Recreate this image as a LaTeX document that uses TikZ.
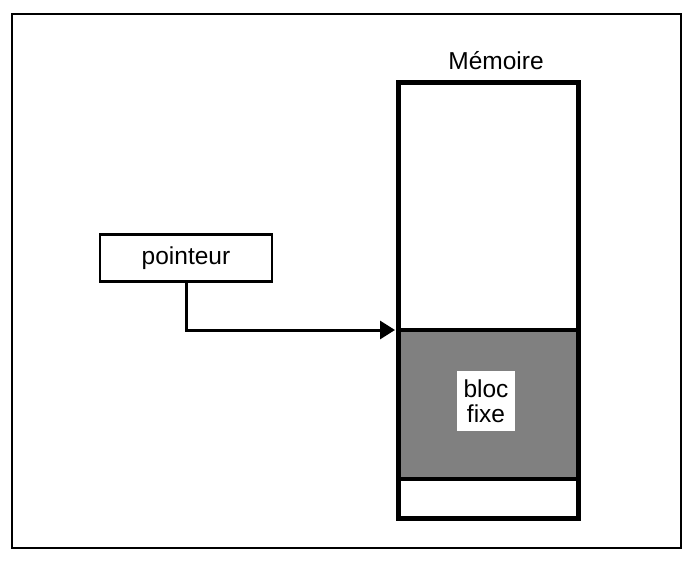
\documentclass[tikz,border=0pt]{standalone}
\usepackage{fontspec}
\setmainfont{Liberation Sans}
\usetikzlibrary{arrows.meta}
\begin{document}
\begin{tikzpicture}[x=1pt,y=-1pt,
  lbl/.style={font=\fontsize{24.5}{26}\selectfont},
  thin box/.style={draw,line width=2.8pt},
  memline/.style={line width=5pt},
  conn/.style={line width=3pt,-{Triangle[length=15pt,width=18pt]}}]
\useasboundingbox (0,0) rectangle (686,562);
% outer frame
\draw[line width=2.2pt] (12,14) rectangle (681,548);
% memory column
\fill[black!50] (398,330) rectangle (578,479);
\draw[memline] (398,82) rectangle (578,518);
\draw[line width=4.5pt] (398,330) -- (578,330);
\draw[line width=4.5pt] (398,479) -- (578,479);
\node[lbl] (memlabel) at (496,61) {Mémoire};
\coordinate (div) at (395,330);
% bloc fixe
\node[lbl,fill=white,align=center,minimum width=58pt,minimum height=60pt,inner sep=2pt,
  font=\fontsize{24.5}{25}\selectfont] (bloc) at (486,401) {bloc\\fixe};
% pointeur
\node[thin box,lbl,minimum width=172pt,minimum height=47pt,inner sep=0pt] (ptr) at (186,258) {pointeur};
\draw[conn] (ptr.south) |- (div);
\end{tikzpicture}
\end{document}
